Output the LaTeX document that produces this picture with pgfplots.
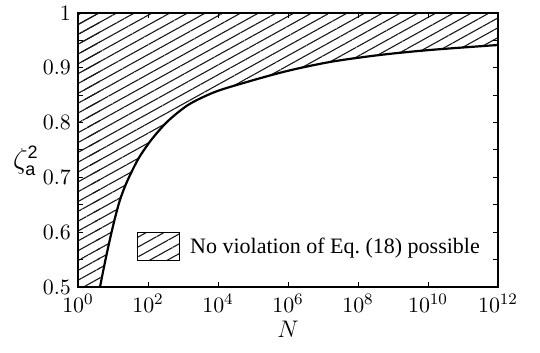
\documentclass[border=0pt]{standalone}
\usepackage{fontspec}
\setmainfont{Liberation Serif}
\newfontfamily\helv{Liberation Sans}
\usepackage{pgfplots}
\pgfplotsset{compat=1.18}
\usetikzlibrary{patterns.meta,calc}
\usepgfplotslibrary{fillbetween}
\tikzset{hatch/.style={pattern={Lines[angle=29,distance=4.3pt,line width=0.55pt]}, pattern color=black!90}}
\pgfplotstableread{
N        y
4.25     0.5000
5.91     0.5456
8.21     0.5876
11.4     0.6259
15.8     0.6588
23.5     0.6880
37.3     0.7153
59.1     0.7390
130      0.7701
373      0.8029
1390     0.8321
5900     0.8522
22000    0.8650
7.2e5    0.8923
1.58e7   0.9106
4.25e8   0.9234
1.14e10  0.9325
1e12     0.9416
}\curvedata
\begin{document}
\begin{tikzpicture}
\begin{axis}[
  scale only axis, width=210pt, height=137pt,
  xmode=log, xmin=1, xmax=1e12, ymin=0.5, ymax=1,
  xtick={1,1e2,1e4,1e6,1e8,1e10,1e12},
  xminorticks=false,
  ytick={0.5,0.6,0.7,0.8,0.9,1},
  minor ytick={0.55,0.65,0.75,0.85,0.95},
  tick align=inside, major tick length=2.5pt, minor tick length=2.5pt,
  every tick/.style={black, line width=0.5pt},
  axis line style={line width=0.6pt},
  axis on top=true,
  ticklabel style={font=\fontsize{11}{13}\selectfont},
  xlabel={$N$},
  xlabel style={at={(axis description cs:0.5,-0.153)}, anchor=center, font=\fontsize{13}{15}\selectfont},
  ylabel={\fontsize{15}{17}\selectfont$\zeta^{\mbox{\helv\fontsize{9}{10}\selectfont 2}}_{\mbox{\helv\fontsize{9}{10}\selectfont a}}$},
  ylabel style={at={(axis description cs:-0.124,0.46)}, rotate=-90, anchor=center},
  legend style={at={(axis description cs:0.14,0.146)}, anchor=west, draw=none, fill=none, inner sep=0pt,
    font=\fontsize{11}{13}\selectfont},
  legend cell align=left,
]
\addplot[name path=curve, draw=none, smooth, forget plot] table[x=N, y=y] {\curvedata};
\addplot[name path=top, draw=none, forget plot] coordinates {(1,1) (1e12,1)};
\addplot[hatch, draw=none, forget plot] fill between[of=curve and top];
\addplot[hatch, draw=none, forget plot] coordinates {(1,0.5) (4.25,0.5) (4.25,1) (1,1)} -- cycle;
\addplot[black, line width=1.1pt, smooth, forget plot] table[x=N, y=y] {\curvedata};
\addlegendimage{legend image code/.code={\draw[hatch, line width=0.5pt] (0pt,-7pt) rectangle (21pt,7pt);}}
\addlegendentry{\hspace{3pt}No violation of Eq.~(18) possible}
\end{axis}
\pgfresetboundingbox
\path[use as bounding box] ($(current axis.south west)+(-39pt,-33pt)$) rectangle ($(current axis.north east)+(21pt,6.5pt)$);
\end{tikzpicture}
\end{document}
